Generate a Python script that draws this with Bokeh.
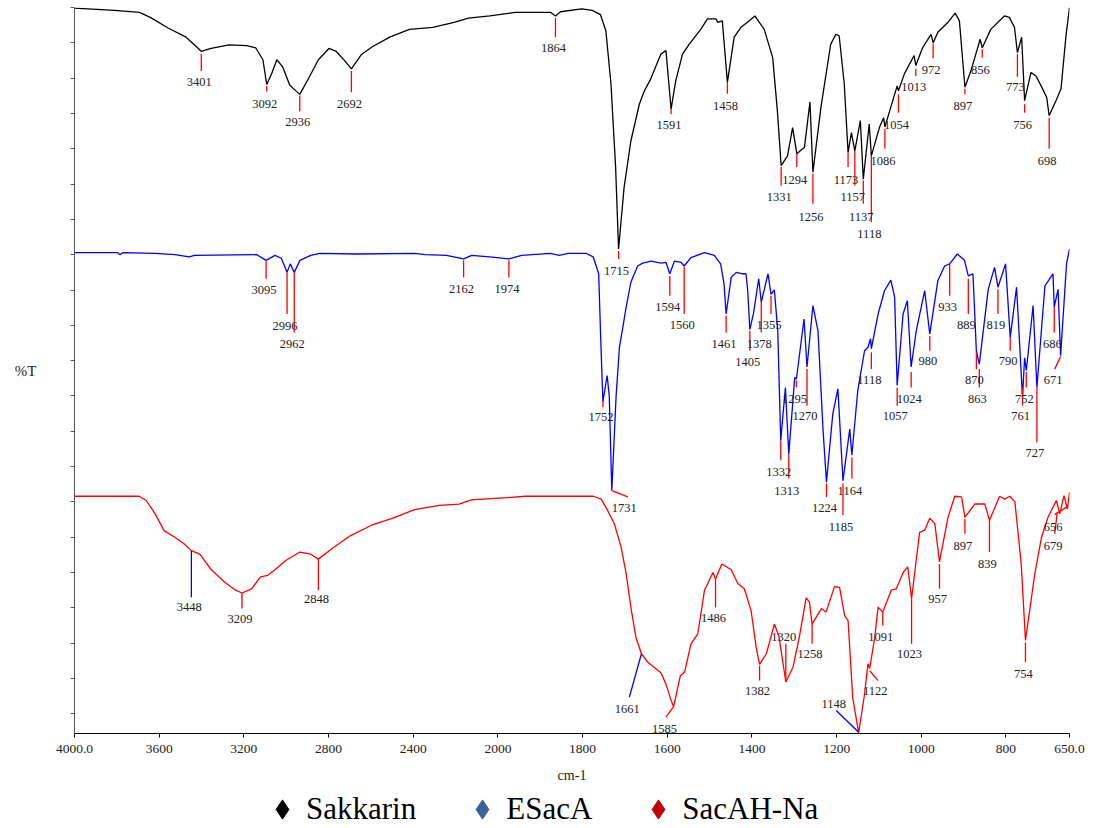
import numpy as np
from bokeh.plotting import figure
from bokeh.layouts import column
from bokeh.models import (Range1d, FixedTicker, CustomJSTickFormatter, Legend, LegendItem)
from bokeh.embed import file_html
from bokeh.resources import INLINE
from bokeh.core.properties import value

# ---------------- data: wavenumber (cm-1) and stacked %T ----------------
sak_w = [4000, 3811, 3693, 3642, 3558, 3473, 3401, 3355, 3270, 3186, 3144, 3110, 3092, 3068, 3044, 3017,
         2983, 2958, 2936, 2899, 2848, 2798, 2764, 2722, 2692, 2646, 2595, 2511, 2418, 2308, 2207, 2139,
         2038, 1959, 1875, 1864, 1852, 1802, 1777, 1758, 1745, 1733, 1722, 1715, 1702, 1686, 1666, 1654,
         1639, 1615, 1603, 1591, 1580, 1564, 1548, 1521, 1505, 1485, 1481, 1470, 1458, 1442, 1426, 1407,
         1393, 1371, 1351, 1340, 1331, 1316, 1304, 1294, 1276, 1263, 1256, 1237, 1214, 1202, 1194, 1182,
         1173, 1165, 1157, 1144, 1137, 1123, 1118, 1099, 1089, 1086, 1072, 1057, 1054, 1040, 1017, 1013,
         997, 977, 972, 961, 937, 920, 910, 897, 883, 861, 856, 836, 804, 792, 780, 773, 763, 756, 741,
         729, 717, 704, 698, 682, 670, 658, 650]
sak_t = [99.9, 99.6, 99.3, 98.6, 97.1, 95.8, 93.8, 94.2, 94.7, 94.6, 94.3, 92.6, 89.1, 90.7, 92.6, 91.6,
         89.0, 88.3, 87.7, 89.7, 92.6, 94.2, 93.8, 92.4, 91.3, 93.3, 94.4, 95.8, 96.9, 97.2, 97.9, 98.5,
         98.8, 99.3, 99.3, 98.8, 99.4, 99.8, 99.6, 99.0, 96.7, 89.2, 77.4, 65.8, 74.5, 81.1, 86.3, 88.2,
         89.9, 93.4, 93.9, 85.6, 89.6, 93.4, 94.8, 96.9, 98.4, 98.4, 97.9, 98.1, 89.4, 95.8, 97.2, 98.1,
         98.8, 96.9, 92.9, 85.4, 77.6, 79.0, 83.0, 79.3, 80.2, 86.6, 76.7, 85.9, 94.8, 96.2, 96.0, 89.2,
         79.5, 82.3, 79.7, 84.0, 75.7, 83.5, 79.0, 83.0, 84.4, 83.1, 85.9, 88.9, 88.2, 90.6, 93.2, 91.8,
         94.3, 96.2, 95.0, 96.5, 97.9, 99.2, 98.1, 88.7, 91.0, 95.5, 94.3, 96.9, 98.8, 98.6, 97.2, 93.6,
         95.8, 86.8, 90.8, 90.3, 88.9, 87.3, 84.7, 86.8, 88.5, 96.2, 100.0]

esa_w = [4000, 3797, 3785, 3770, 3619, 3526, 3458, 3433, 3138, 3095, 3053, 3023, 2996, 2981, 2962, 2935,
         2884, 2842, 2665, 2394, 2344, 2243, 2162, 2124, 2040, 1974, 1944, 1876, 1855, 1834, 1792, 1775,
         1762, 1757, 1752, 1742, 1737, 1731, 1721, 1713, 1705, 1697, 1686, 1670, 1658, 1638, 1615, 1603,
         1594, 1583, 1567, 1560, 1544, 1512, 1489, 1474, 1466, 1461, 1449, 1437, 1422, 1414, 1410, 1405,
         1396, 1384, 1378, 1362, 1355, 1347, 1339, 1332, 1321, 1313, 1299, 1295, 1277, 1270, 1256, 1244,
         1232, 1224, 1209, 1197, 1185, 1169, 1164, 1150, 1134, 1126, 1120, 1118, 1102, 1087, 1072, 1063,
         1057, 1043, 1033, 1024, 1012, 992, 980, 961, 945, 933, 915, 898, 889, 878, 870, 863, 842, 827,
         819, 801, 790, 775, 761, 756, 752, 736, 727, 708, 689, 686, 677, 671, 657, 650]
esa_t = [65.3, 65.3, 65.0, 65.3, 65.2, 65.0, 64.7, 64.9, 65.0, 64.2, 64.9, 64.5, 62.5, 63.7, 62.5, 64.2,
         64.9, 65.2, 65.1, 65.2, 65.0, 64.9, 64.4, 64.9, 64.7, 64.4, 64.9, 65.2, 64.9, 65.2, 65.2, 64.7,
         62.3, 52.8, 44.2, 47.9, 45.0, 31.6, 44.8, 51.9, 54.7, 57.6, 61.1, 63.4, 63.8, 64.1, 63.8, 63.9,
         62.3, 64.1, 63.9, 63.4, 64.6, 65.3, 64.9, 63.7, 60.9, 56.6, 61.8, 62.5, 62.3, 62.3, 59.9, 54.4,
         56.8, 61.6, 58.3, 62.3, 59.4, 60.0, 54.2, 38.7, 46.2, 36.8, 47.6, 47.4, 55.9, 49.1, 57.8, 54.2,
         40.1, 32.8, 42.5, 46.0, 33.0, 40.3, 36.6, 45.8, 51.4, 51.9, 53.1, 51.7, 56.6, 59.9, 61.4, 59.0,
         46.5, 56.6, 58.5, 49.1, 54.2, 59.9, 53.8, 61.3, 63.4, 63.7, 65.1, 64.2, 62.0, 62.3, 51.4, 49.5,
         60.1, 63.2, 60.4, 63.7, 53.3, 60.4, 44.8, 50.4, 48.6, 57.8, 46.2, 60.6, 62.3, 57.6, 60.1, 50.7,
         63.7, 65.8]

sac_w = [4000, 3695, 3661, 3619, 3576, 3526, 3484, 3448, 3408, 3357, 3289, 3239, 3209, 3163, 3121, 3087,
         3053, 3002, 2935, 2884, 2848, 2783, 2698, 2597, 2496, 2394, 2276, 2183, 2124, 1979, 1935, 1775,
         1756, 1741, 1725, 1709, 1697, 1686, 1674, 1661, 1646, 1615, 1603, 1591, 1585, 1569, 1559, 1544,
         1528, 1512, 1492, 1486, 1471, 1449, 1433, 1418, 1402, 1390, 1382, 1366, 1347, 1336, 1320, 1303,
         1288, 1272, 1264, 1258, 1236, 1225, 1205, 1193, 1181, 1173, 1162, 1148, 1134, 1126, 1122, 1110,
         1102, 1091, 1071, 1059, 1043, 1032, 1023, 1004, 992, 980, 968, 957, 937, 921, 905, 897, 874, 850,
         839, 815, 803, 791, 779, 764, 754, 732, 716, 701, 681, 673, 663, 655, 650]
sac_t = [30.8, 30.8, 30.2, 28.3, 25.9, 25.0, 24.1, 23.1, 22.6, 20.5, 18.6, 17.5, 17.1, 17.7, 19.4, 19.6,
         20.4, 21.7, 22.9, 22.6, 21.9, 23.4, 25.2, 26.7, 27.7, 28.9, 29.5, 29.7, 30.3, 30.6, 30.8, 30.8,
         30.4, 28.8, 26.9, 23.6, 19.8, 15.1, 10.8, 8.5, 7.3, 5.8, 4.2, 1.9, 1.0, 5.4, 5.9, 9.9,
         11.3, 17.5, 20.0, 19.1, 21.2, 20.4, 18.4, 17.7, 14.6, 9.4, 7.0, 8.5, 12.7, 10.9, 4.5, 6.6,
         10.9, 16.4, 15.8, 12.7, 14.9, 14.4, 18.0, 17.9, 13.9, 13.2, 2.3, -2.7, 2.8, 7.1, 6.4, 10.8,
         15.1, 14.4, 17.5, 17.7, 20.0, 20.8, 16.3, 25.7, 26.0, 27.7, 26.9, 21.5, 27.8, 30.8, 30.7, 27.8, 29.7, 29.7,
         27.4, 30.8, 30.4, 30.8, 30.0, 21.2, 10.4, 19.8, 25.0, 27.8, 30.2, 28.3, 30.9, 29.0, 31.4]

# ---------------- peak annotations ----------------
sak_peaks = [3401, 3092, 2936, 2692, 1864, 1715, 1591, 1458, 1331, 1294, 1256, 1173, 1157, 1137, 1118,
             1086, 1054, 1013, 972, 897, 856, 773, 756, 698]
sak_tick_top = [93.4, 88.9, 87.5, 91.0, 98.5, 65.5, 85.6, 89.4, 77.4, 79.3, 76.5, 79.5, 79.7, 75.5, 79.0,
                82.8, 87.7, 91.3, 94.9, 88.5, 94.1, 93.4, 86.3, 84.4]
sak_tick_end = [91.0, 88.1, 85.3, 88.0, 95.8, 64.4, 84.9, 87.8, 74.8, 77.4, 72.2, 77.4, 74.8, 72.2, 69.6,
                80.0, 85.1, 90.3, 92.8, 87.7, 92.9, 90.2, 85.1, 80.0]
sak_label_y = [89.4, 86.3, 83.8, 86.3, 94.3, 62.7, 83.4, 86.0, 73.1, 75.6, 70.4, 75.6, 73.1, 70.4, 67.9,
               78.2, 83.4, 88.7, 91.2, 86.0, 91.2, 88.7, 83.4, 78.2]

esa_peaks = [3095, 2996, 2962, 2162, 1974, 1752, 1731, 1594, 1560, 1461, 1405, 1378, 1355, 1332, 1313,
             1295, 1270, 1224, 1185, 1164, 1118, 1057, 1024, 980, 933, 889, 870, 863, 819, 790, 761,
             752, 727, 686, 671]
esa_tick_top = [64.2, 62.5, 62.5, 64.2, 64.2, 44.3, 31.6, 62.0, 63.3, 56.4, 54.2, 58.3, 59.2, 38.7, 36.8,
                47.2, 48.8, 32.6, 32.6, 36.3, 51.2, 46.2, 48.4, 53.5, 63.7, 61.6, 51.2, 48.8, 60.1, 53.3,
                46.2, 48.4, 46.2, 57.6, 50.6]
esa_tick_end = [61.6, 56.6, 54.0, 61.8, 61.8, 43.4, 30.7, 59.2, 56.6, 54.0, 51.4, 54.0, 56.6, 35.9, 33.3,
                46.2, 43.6, 30.7, 28.1, 33.3, 48.8, 43.6, 46.2, 51.4, 59.2, 56.6, 48.8, 46.2, 56.6, 51.4,
                43.6, 46.2, 38.4, 54.0, 48.8]
esa_label_y = [60.0, 54.9, 52.4, 60.1, 60.1, 42.0, 29.2, 57.6, 55.0, 52.4, 49.8, 52.4, 55.0, 34.3, 31.6,
               44.6, 42.1, 29.2, 26.5, 31.6, 47.2, 42.1, 44.6, 49.9, 57.6, 55.0, 47.2, 44.6, 55.0, 49.9,
               42.1, 44.6, 36.9, 52.4, 47.2]
esa_tick_end_w = {1731: 1693, 671: 685}
esa_label_w = {1731: 1697, 671: 684}

sac_peaks = [3448, 3209, 2848, 1661, 1585, 1486, 1382, 1320, 1258, 1148, 1122, 1091, 1023, 957, 897,
             839, 754, 679, 656]
sac_tick_top = [23.1, 17.1, 21.9, 8.5, 1.0, 19.1, 6.8, 4.5, 12.7, -2.6, 6.1, 14.4, 16.3, 21.2, 27.6,
                27.4, 10.1, 28.5, 29.3]
sac_tick_end = [16.5, 14.9, 17.5, 2.36, -0.47, 15.1, 4.7, 9.9, 9.9, 0.47, 4.7, 12.5, 9.9, 17.7, 25.5,
                22.9, 7.3, 25.5, 28.2]
sac_label_y = [15.1, 13.4, 16.2, 0.71, -2.1, 13.5, 3.2, 10.9, 8.4, 1.4, 3.2, 10.9, 8.4, 16.2, 23.8,
               21.2, 5.7, 23.8, 26.4]
sac_tick_end_w = {1661: 1689.5, 1585: 1603, 1148: 1201, 1122: 1102, 679: 685, 656: 685}
sac_label_w = {1661: 1690, 1585: 1602, 1148: 1202, 1122: 1104, 679: 684, 656: 684}
sac_blue_ticks = [3448, 1661, 1148]

tick_w = [4000, 3600, 3200, 2800, 2400, 2000, 1800, 1600, 1400, 1200, 1000, 800, 650]
tick_labels = ["4000.0", "3600", "3200", "2800", "2400", "2000", "1800", "1600", "1400", "1200",
               "1000", "800", "650.0"]
series_names = ["Sakkarin", "ESacA", "SacAH-Na"]


# x scale with a break at 2000 cm-1 (400 cm-1 per division above, 200 below)
def axis_pos(w):
    w = np.asarray(w, dtype=float)
    return np.where(w >= 2000, (4000 - w) / 400.0, 5 + (2000 - w) / 200.0)


SERIF = value("Liberation Serif")

p = figure(frame_width=995, frame_height=726,
           x_range=Range1d(float(axis_pos(4000)), float(axis_pos(650))),
           y_range=Range1d(-2.79, 100),
           output_backend="svg", toolbar_location=None,
           min_border_left=74, min_border_right=26, min_border_top=7, min_border_bottom=50,
           outline_line_color=None, background_fill_color="white", border_fill_color="white")
p.grid.visible = False

# x axis
xa = p.xaxis[0]
xa.ticker = FixedTicker(ticks=[float(v) for v in axis_pos(tick_w)], minor_ticks=[])
xa.formatter = CustomJSTickFormatter(
    args=dict(pos=[float(v) for v in axis_pos(tick_w)], labels=tick_labels),
    code="""
let best = 0;
for (let i = 1; i < pos.length; i++) {
  if (Math.abs(pos[i] - tick) < Math.abs(pos[best] - tick)) best = i;
}
return labels[best];
""")
xa.major_tick_out = 4
xa.major_tick_in = 0
xa.minor_tick_line_color = None
xa.major_label_text_font = "Liberation Serif"
xa.major_label_text_font_size = "13.5px"
xa.major_label_text_color = "#222222"
xa.major_label_standoff = 7
xa.axis_label = "cm-1"
xa.axis_label_text_font = "Liberation Serif"
xa.axis_label_text_font_size = "14px"
xa.axis_label_text_font_style = "normal"
xa.axis_label_text_color = "#222222"
xa.axis_label_standoff = 12
xa.axis_line_color = "black"

# y axis (unlabelled ticks)
ya = p.yaxis[0]
ya.ticker = FixedTicker(ticks=list(range(0, 101, 5)), minor_ticks=[])
ya.formatter = CustomJSTickFormatter(code="return ''")
ya.major_tick_out = 4
ya.major_tick_in = 0
ya.major_tick_line_color = "#555555"
ya.minor_tick_line_color = None
ya.major_label_standoff = 0
ya.axis_label = "%T"
ya.axis_label_orientation = "horizontal"
ya.axis_label_text_font = "Liberation Serif"
ya.axis_label_text_font_size = "15px"
ya.axis_label_text_font_style = "normal"
ya.axis_label_text_color = "#222222"
ya.axis_label_standoff = 34
ya.axis_line_color = "#555555"

# spectra
p.line(axis_pos(sak_w), sak_t, line_color="black", line_width=1.3)
p.line(axis_pos(esa_w), esa_t, line_color="#0000ff", line_width=1.3)
p.line(axis_pos(sac_w), sac_t, line_color="#ff0000", line_width=1.3)


def annotate(peaks, top, end, label_y, end_w=None, label_w=None, blue=()):
    end_w = end_w or {}
    label_w = label_w or {}
    x1 = [end_w.get(w, w) for w in peaks]
    lx = [label_w.get(w, w) for w in peaks]
    colors = ["#0000ff" if w in blue else "#ff0000" for w in peaks]
    p.segment(x0=axis_pos(peaks), y0=top, x1=axis_pos(x1), y1=end,
              line_color=colors, line_width=1.3)
    p.text(x=axis_pos(lx), y=label_y, text=[str(w) for w in peaks],
           text_font=SERIF, text_font_size=value("12.5px"), text_color="#222222",
           text_align="center", text_baseline="middle", x_offset=-2)


annotate(sak_peaks, sak_tick_top, sak_tick_end, sak_label_y)
annotate(esa_peaks, esa_tick_top, esa_tick_end, esa_label_y, esa_tick_end_w, esa_label_w)
annotate(sac_peaks, sac_tick_top, sac_tick_end, sac_label_y, sac_tick_end_w, sac_label_w, sac_blue_ticks)

# legend strip (diamonds) below the chart; proxy renderers are hidden, only their legend glyphs show
lg = figure(width=1095, height=45, output_backend="svg", toolbar_location=None,
            x_axis_location=None, y_axis_location=None, min_border=0,
            outline_line_color=None, background_fill_color="white", border_fill_color="white")
lg.grid.visible = False
legend_colors = ["black", "#3a6399", "#c00000"]
items = []
for name, col in zip(series_names, legend_colors):
    r = lg.scatter(x=[0], y=[0], marker="diamond", fill_color=col, line_color=col, visible=False)
    items.append(LegendItem(label=name, renderers=[r]))
legend = Legend(items=items, orientation="horizontal", location=(184, -4),
                glyph_width=48, glyph_height=50, label_standoff=0, spacing=42,
                padding=0, margin=0, border_line_color=None, background_fill_alpha=0,
                inactive_fill_alpha=0,
                label_text_font="Liberation Serif", label_text_font_size="31px",
                label_text_color="black")
lg.add_layout(legend, "center")

layout = column(p, lg, spacing=0)
open("out.html", "w").write(file_html(layout, INLINE))
